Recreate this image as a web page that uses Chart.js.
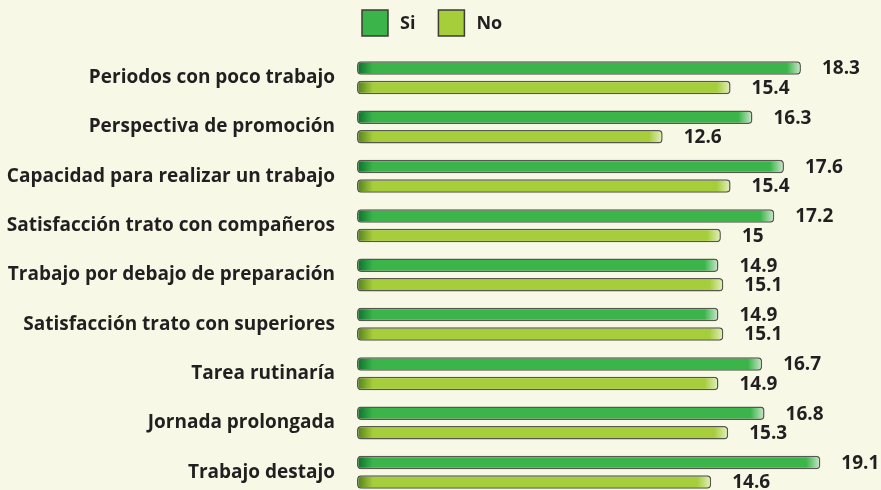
<!DOCTYPE html>
<html>
<head>
<meta charset="utf-8">
<script src="https://cdn.jsdelivr.net/npm/chart.js@4/dist/chart.umd.min.js"></script>
<style>
  html, body { margin: 0; padding: 0; background: #f8f8e6; overflow: hidden; }
  canvas { display: block; }
</style>
</head>
<body>
<canvas id="chart" width="881" height="497"></canvas>
<script>
// ============================================
// Data
// ============================================

const categories = [
  'Periodos con poco trabajo',
  'Perspectiva de promoción',
  'Capacidad para realizar un trabajo',
  'Satisfacción trato con compañeros',
  'Trabajo por debajo de preparación',
  'Satisfacción trato con superiores',
  'Tarea rutinaría',
  'Jornada prolongada',
  'Trabajo destajo'
];
const siValues = [18.3, 16.3, 17.6, 17.2, 14.9, 14.9, 16.7, 16.8, 19.1];
const noValues = [15.4, 12.6, 15.4, 15.0, 15.1, 15.1, 14.9, 15.3, 14.6];
const seriesLabels = ['Si', 'No'];

const TEXT_COLOR = '#231f20';
const FONT = '"Open Sans", "Noto Sans", sans-serif';

// main / dark end colours for each series
const palette = [
  { main: '#3bb54a', dark: '#0b6e2a', light: '#cfe8cf' },
  { main: '#a6cd3a', dark: '#4f7f1a', light: '#e4f0c2' }
];

// ============================================
// Helpers
// ============================================

function barGradient(dsIndex) {
  return function (context) {
    const chart = context.chart;
    const xScale = chart.scales.x;
    const colors = palette[dsIndex];
    if (!chart.chartArea || !xScale || context.raw == null) return colors.main;
    const left = xScale.getPixelForValue(0);
    const right = xScale.getPixelForValue(context.raw);
    const len = Math.max(right - left, 1);
    const g = chart.ctx.createLinearGradient(left, 0, right, 0);
    g.addColorStop(0, colors.dark);
    g.addColorStop(Math.min(16 / len, 0.5), colors.main);
    g.addColorStop(Math.max(1 - 14 / len, 0.5), colors.main);
    g.addColorStop(1, colors.light);
    return g;
  };
}

// value labels at the end of each bar
const valueLabels = {
  id: 'valueLabels',
  afterDatasetsDraw(chart) {
    const ctx = chart.ctx;
    ctx.save();
    ctx.font = 'bold 19px ' + FONT;
    ctx.fillStyle = TEXT_COLOR;
    ctx.textAlign = 'left';
    ctx.textBaseline = 'middle';
    chart.data.datasets.forEach((ds, di) => {
      const meta = chart.getDatasetMeta(di);
      meta.data.forEach((bar, i) => {
        ctx.fillText(String(ds.data[i]), bar.x + 21, bar.y + 1);
      });
    });
    ctx.restore();
  }
};

// legend drawn above the plot, starting at the plot's left edge
const topLegend = {
  id: 'topLegend',
  afterDraw(chart) {
    const ctx = chart.ctx;
    const box = 26;
    let x = chart.chartArea.left + 5;
    const y = 10;
    ctx.save();
    ctx.font = 'bold 18px ' + FONT;
    ctx.textBaseline = 'middle';
    chart.data.datasets.forEach((ds, di) => {
      ctx.fillStyle = palette[di].main;
      ctx.fillRect(x, y, box, box);
      ctx.strokeStyle = '#3d3d38';
      ctx.lineWidth = 1.5;
      ctx.strokeRect(x, y, box, box);
      ctx.fillStyle = TEXT_COLOR;
      ctx.fillText(ds.label, x + box + 12, y + box / 2 + 1);
      x += box + 12 + ctx.measureText(ds.label).width + 23;
    });
    ctx.restore();
  }
};

// ============================================
// Chart
// ============================================

new Chart(document.getElementById('chart'), {
  type: 'bar',
  data: {
    labels: categories,
    datasets: [
      {
        label: seriesLabels[0],
        data: siValues,
        backgroundColor: barGradient(0),
        borderColor: '#56574e',
        borderWidth: 1.5,
        borderRadius: 4,
        borderSkipped: false
      },
      {
        label: seriesLabels[1],
        data: noValues,
        backgroundColor: barGradient(1),
        borderColor: '#56574e',
        borderWidth: 1.5,
        borderRadius: 4,
        borderSkipped: false
      }
    ]
  },
  options: {
    indexAxis: 'y',
    responsive: false,
    animation: false,
    categoryPercentage: 0.79,
    barPercentage: 0.69,
    layout: { padding: { top: 53, right: 0, bottom: 0, left: 0 } },
    plugins: {
      legend: { display: false },
      tooltip: { enabled: false }
    },
    scales: {
      x: {
        display: false,
        min: 0,
        max: 21.6
      },
      y: {
        grid: { display: false, drawTicks: false },
        border: { display: false },
        ticks: {
          color: TEXT_COLOR,
          font: { family: FONT, size: 19, weight: 'bold' },
          padding: 22
        },
        afterFit(scale) {
          // fixed label column, no extra space above/below the bands
          scale.width = 357;
          scale.paddingTop = 0;
          scale.paddingBottom = 0;
        }
      }
    }
  },
  plugins: [valueLabels, topLegend]
});
</script>
</body>
</html>
